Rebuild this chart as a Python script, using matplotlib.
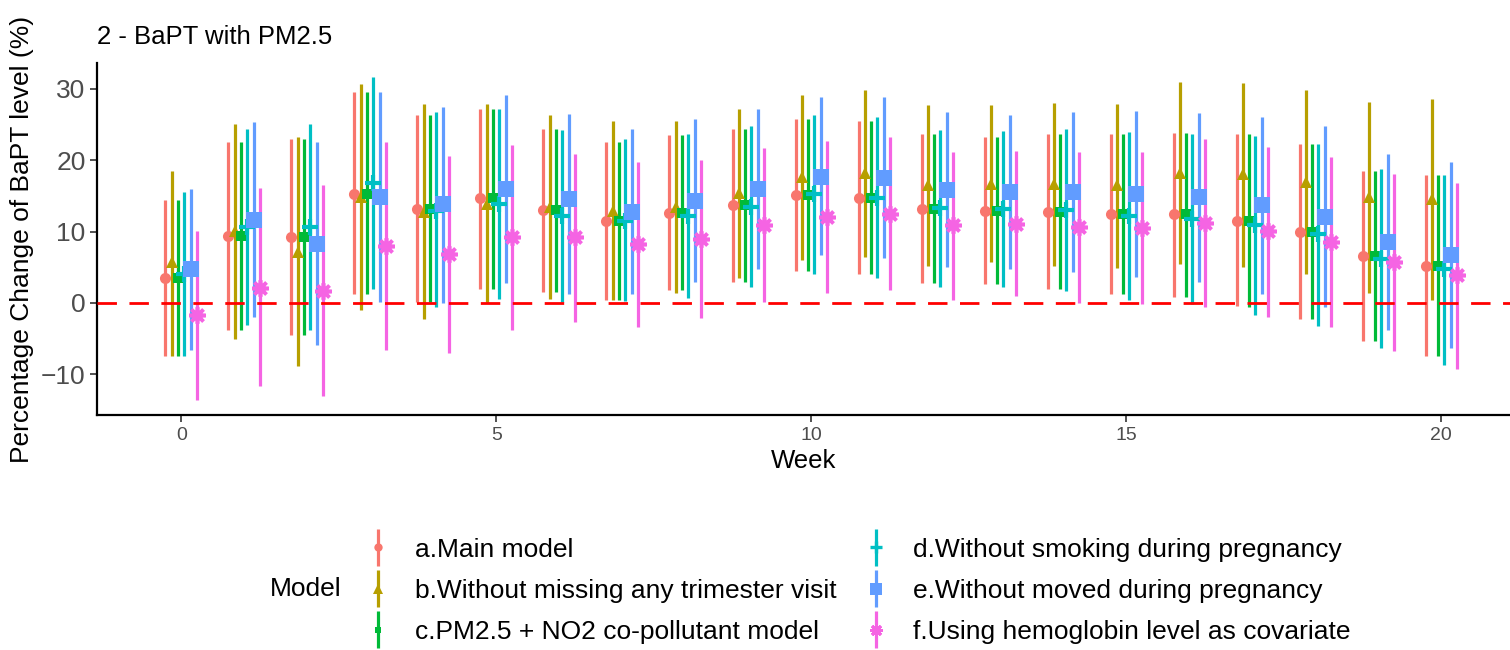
import matplotlib
matplotlib.use("Agg")
import matplotlib.pyplot as plt
from matplotlib.legend_handler import HandlerErrorbar
from matplotlib.container import ErrorbarContainer

plt.rcParams['font.family'] = ['Liberation Sans', 'DejaVu Sans']

weeks = list(range(21))

models = [
    "a.Main model",
    "b.Without missing any trimester visit",
    "c.PM2.5 + NO2 co-pollutant model",
    "d.Without smoking during pregnancy",
    "e.Without moved during pregnancy",
    "f.Using hemoglobin level as covariate",
]

est_a = [3.5, 9.4, 9.2, 15.3, 13.2, 14.7, 13.0, 11.5, 12.6, 13.7, 15.1, 14.7, 13.1, 12.9, 12.7, 12.5, 12.4, 11.5, 9.9, 6.6, 5.2]
lo_a = [-7.5, -3.8, -4.5, 1.2, 0.1, 1.9, 1.5, 0.4, 1.8, 3.0, 4.5, 4.0, 2.8, 2.6, 1.9, 1.2, 0.9, -0.4, -2.3, -5.4, -7.5]
hi_a = [14.4, 22.6, 23.0, 29.5, 26.3, 27.2, 24.4, 22.6, 23.5, 24.4, 25.7, 25.5, 23.6, 23.3, 23.6, 23.7, 23.8, 23.6, 22.2, 18.5, 17.9]

est_b = [5.7, 10.1, 7.2, 14.9, 12.8, 13.9, 13.5, 12.9, 13.5, 15.4, 17.6, 18.2, 16.5, 16.6, 16.6, 16.5, 18.2, 18.0, 16.9, 14.9, 14.5]
lo_b = [-7.4, -5.0, -8.9, -1.0, -2.2, 0.0, 0.6, 0.4, 1.4, 3.5, 6.0, 6.5, 5.2, 5.7, 5.2, 4.9, 5.5, 5.0, 4.1, 1.4, 0.4]
hi_b = [18.5, 25.1, 23.2, 30.7, 27.8, 27.9, 26.3, 25.5, 25.5, 27.2, 29.1, 29.8, 27.7, 27.7, 28.0, 27.9, 31.0, 30.8, 29.8, 28.1, 28.5]

est_c = [3.5, 9.4, 9.2, 15.3, 13.2, 14.7, 13.0, 11.5, 12.6, 13.7, 15.1, 14.7, 13.1, 12.9, 12.7, 12.5, 12.4, 11.5, 9.9, 6.6, 5.2]
lo_c = [-7.5, -3.8, -4.5, 1.2, 0.1, 1.9, 1.5, 0.4, 1.8, 3.0, 4.5, 4.0, 2.8, 2.6, 1.9, 1.2, 0.9, -0.5, -2.3, -5.4, -7.5]
hi_c = [14.4, 22.6, 23.0, 29.5, 26.3, 27.2, 24.4, 22.6, 23.5, 24.4, 25.7, 25.5, 23.6, 23.3, 23.6, 23.7, 23.8, 23.6, 22.2, 18.5, 17.9]

est_d = [4.0, 10.7, 10.7, 16.8, 12.9, 13.9, 12.2, 11.5, 12.2, 13.5, 15.3, 14.7, 13.3, 13.2, 13.0, 12.2, 11.8, 10.9, 9.6, 6.2, 4.7]
lo_d = [-7.5, -3.1, -3.8, 2.0, -0.6, 0.6, 0.1, 0.3, 0.7, 2.2, 4.1, 3.5, 2.3, 2.3, 1.7, 0.4, -0.1, -1.7, -3.2, -6.3, -8.7]
hi_d = [15.5, 24.4, 25.0, 31.6, 26.8, 27.1, 24.2, 23.0, 23.6, 24.8, 26.3, 26.1, 24.2, 24.1, 24.3, 24.0, 23.7, 23.4, 22.3, 18.7, 17.9]

est_e = [4.7, 11.6, 8.3, 14.9, 13.9, 16.0, 14.5, 12.8, 14.3, 16.0, 17.7, 17.5, 15.8, 15.6, 15.5, 15.2, 14.9, 13.7, 12.1, 8.6, 6.7]
lo_e = [-6.6, -2.0, -5.9, 0.1, 0.0, 2.8, 1.3, 1.3, 3.0, 4.7, 6.7, 6.3, 5.0, 4.8, 4.3, 3.6, 2.9, 1.3, -0.6, -3.8, -6.3]
hi_e = [15.9, 25.3, 22.6, 29.6, 27.5, 29.1, 26.4, 24.3, 25.7, 27.1, 28.8, 28.8, 26.7, 26.3, 26.7, 26.9, 26.6, 26.1, 24.8, 20.8, 19.7]

est_f = [-1.7, 2.1, 1.7, 8.0, 6.9, 9.2, 9.2, 8.3, 8.9, 10.9, 12.1, 12.5, 10.9, 11.1, 10.7, 10.5, 11.2, 10.1, 8.5, 5.7, 3.9]
lo_f = [-13.6, -11.7, -13.1, -6.6, -7.0, -3.8, -2.7, -3.4, -2.1, 0.1, 1.4, 1.8, 0.4, 1.0, 0.0, -0.1, -0.6, -1.9, -3.4, -6.8, -9.2]
hi_f = [10.1, 16.1, 16.5, 22.5, 20.6, 22.1, 20.9, 19.8, 20.0, 21.7, 22.7, 23.2, 21.2, 21.3, 21.1, 21.1, 22.9, 21.9, 20.4, 18.1, 16.8]

estimates = [est_a, est_b, est_c, est_d, est_e, est_f]
lowers = [lo_a, lo_b, lo_c, lo_d, lo_e, lo_f]
uppers = [hi_a, hi_b, hi_c, hi_d, hi_e, hi_f]

colors = ["#F8766D", "#B79F00", "#00BA38", "#00BFC4", "#619CFF", "#F564E3"]
markers = ["o", "^", "s", "+", "s", (8, 2, 0)]
msizes = [8, 9, 6.5, 12, 11, 12]
mews = [0, 0, 0, 3, 0, 2.6]

fig = plt.figure(figsize=(15.1, 6.5), dpi=100)
ax = fig.add_axes([0.0645, 0.3615, 0.9355, 0.5415])

dodge = 0.6
n = len(models)
handles = []
for i in range(n):
    off = (i - (n - 1) / 2) * dodge / n
    xs = [w + off for w in weeks]
    est = estimates[i]
    yerr = [[e - l for e, l in zip(est, lowers[i])], [h - e for e, h in zip(est, uppers[i])]]
    h = ax.errorbar(xs, est, yerr=yerr, fmt="", linestyle="none", marker=markers[i],
                    ms=msizes[i], color=colors[i], mec=colors[i], mew=mews[i],
                    ecolor=colors[i], elinewidth=2.3, capsize=0, label=models[i])
    handles.append(h)

ax.axhline(0, color="#FF0000", linestyle=(0, (7, 4.5)), linewidth=2, zorder=4)

ax.set_xlim(-1.33, 21.09)
ax.set_ylim(-15.7, 33.6)
ax.set_xticks([0, 5, 10, 15, 20])
ax.set_yticks([-10, 0, 10, 20, 30])
ax.tick_params(axis="y", labelsize=19, labelcolor="#4D4D4D", length=5, width=1.2, color="#333333")
ax.tick_params(axis="x", labelsize=14, labelcolor="#4D4D4D", length=5, width=1.2, color="#333333")
for s in ["top", "right"]:
    ax.spines[s].set_visible(False)
for s in ["left", "bottom"]:
    ax.spines[s].set_linewidth(1.6)
    ax.spines[s].set_color("black")

ax.set_xlabel("Week", fontsize=18.5, labelpad=4)
ax.set_ylabel("Percentage Change of BaPT level (%)", fontsize=19, labelpad=5)
ax.set_title("2 - BaPT with PM2.5", fontsize=18.5, loc="left", pad=14)


def shrink_marker(leg_artist, orig):
    leg_artist.update_from(orig)
    if hasattr(leg_artist, "set_markersize"):
        leg_artist.set_markersize(orig.get_markersize() * 0.75)
        leg_artist.set_markeredgewidth(orig.get_markeredgewidth() * 0.8)


fig.legend(handles=handles, labels=models, ncol=2, loc="center", bbox_to_anchor=(0.568, 0.091),
           frameon=False, fontsize=19, handlelength=1.0, handletextpad=0.9,
           columnspacing=1.0, labelspacing=0.65,
           handler_map={ErrorbarContainer: HandlerErrorbar(yerr_size=0.7, update_func=shrink_marker)})
fig.text(0.179, 0.094, "Model", fontsize=19, va="center", ha="left")

fig.savefig("out.png", dpi=100)
